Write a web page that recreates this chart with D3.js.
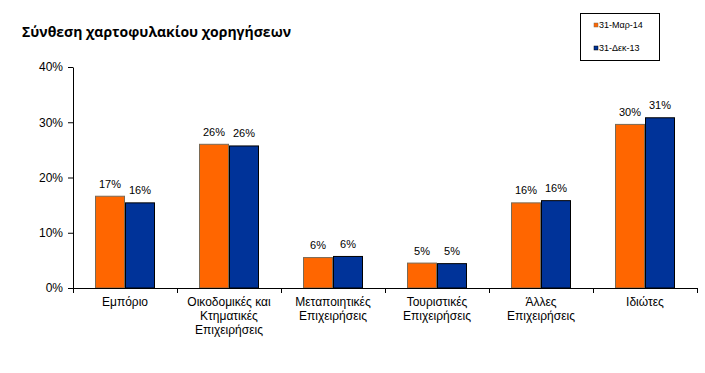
<!DOCTYPE html>
<html>
<head>
<meta charset="utf-8">
<script src="https://cdn.jsdelivr.net/npm/d3@7"></script>
<style>
  body { margin: 0; background: #fff; }
  svg { display: block; font-family: "Liberation Sans", Arial, sans-serif; }
</style>
</head>
<body>
<div id="chart"></div>
<script>
// Data
const categories = [
  ['Εμπόριο'],
  ['Οικοδομικές και', 'Κτηματικές', 'Επιχειρήσεις'],
  ['Μεταποιητικές', 'Επιχειρήσεις'],
  ['Τουριστικές', 'Επιχειρήσεις'],
  ['Άλλες', 'Επιχειρήσεις'],
  ['Ιδιώτες']
];
const seriesNames = ['31-Μαρ-14', '31-Δεκ-13'];
const mar14 = [0.167, 0.261, 0.056, 0.046, 0.155, 0.297];
const dec13 = [0.155, 0.258, 0.058, 0.045, 0.159, 0.309];
const yTicks = [0, 0.1, 0.2, 0.3, 0.4];

const colors = ['#FF6600', '#003399'];
const strokes = ['#7a6a55', '#000000'];

const width = 705, height = 373;
const margin = { left: 73, right: 8, top: 67, bottom: 85 };

const svg = d3.select('#chart')
    .append('svg')
    .attr('width', width)
    .attr('height', height);

// Title
svg.append('text')
    .attr('x', 22)
    .attr('y', 37)
    .attr('font-size', 14)
    .attr('font-weight', 'bold')
    .attr('font-family', '"Open Sans", "Liberation Sans", sans-serif')
    .text('Σύνθεση χαρτοφυλακίου χορηγήσεων');

const x0 = d3.scaleBand()
    .domain(d3.range(categories.length))
    .range([margin.left, 697])
    .padding(0);

const x1 = d3.scaleBand()
    .domain([0, 1])
    .range([22, x0.bandwidth() - 22])
    .padding(0);

const y = d3.scaleLinear()
    .domain([0, 0.4])
    .range([288, 67]);

// Y axis
const yAxis = svg.append('g')
    .attr('transform', `translate(${margin.left},0)`)
    .call(d3.axisLeft(y).tickValues(yTicks).tickFormat(d3.format('.0%')).tickSize(5).tickSizeOuter(0));
yAxis.select('.domain').attr('stroke', '#000');
yAxis.selectAll('text').attr('font-size', 12).attr('fill', '#000').attr('dx', -2).attr('font-family', '"Liberation Sans", Arial, sans-serif');

// Bars
const data = categories.map((c, i) => ({ i, vals: [mar14[i], dec13[i]] }));

const groups = svg.selectAll('.grp')
    .data(data)
    .enter()
    .append('g')
    .attr('class', 'grp')
    .attr('transform', d => `translate(${x0(d.i)},0)`);

groups.selectAll('rect')
    .data(d => d.vals.map((v, s) => ({ v, s })))
    .enter()
    .append('rect')
    .attr('x', d => x1(d.s) + 0.5)
    .attr('y', d => y(d.v) + 0.5)
    .attr('width', x1.bandwidth() - 1)
    .attr('height', d => y(0) - y(d.v) - 0.5)
    .attr('fill', d => colors[d.s])
    .attr('stroke', d => strokes[d.s])
    .attr('stroke-width', 1);

groups.selectAll('.lbl')
    .data(d => d.vals.map((v, s) => ({ v, s })))
    .enter()
    .append('text')
    .attr('class', 'lbl')
    .attr('x', d => x1(d.s) + x1.bandwidth() / 2)
    .attr('y', d => y(d.v) - 8)
    .attr('text-anchor', 'middle')
    .attr('font-size', 11)
    .attr('fill', '#000')
    .text(d => Math.round(d.v * 100) + '%');

// X axis
const xAxis = svg.append('g')
    .attr('transform', `translate(0,${y(0)})`);
xAxis.append('line')
    .attr('x1', margin.left).attr('x2', 697)
    .attr('y1', 0.5).attr('y2', 0.5)
    .attr('stroke', '#000');
xAxis.selectAll('.xt')
    .data(d3.range(categories.length + 1))
    .enter()
    .append('line')
    .attr('x1', d => (d < categories.length ? x0(d) : 697) + 0.5)
    .attr('x2', d => (d < categories.length ? x0(d) : 697) + 0.5)
    .attr('y1', 0).attr('y2', 5)
    .attr('stroke', '#000');

const catLabels = xAxis.selectAll('.cat')
    .data(categories)
    .enter()
    .append('text')
    .attr('class', 'cat')
    .attr('text-anchor', 'middle')
    .attr('font-size', 12)
    .attr('fill', '#000')
    .attr('y', 18);
catLabels.selectAll('tspan')
    .data((d, i) => d.map(t => ({ t, i })))
    .enter()
    .append('tspan')
    .attr('x', d => x0(d.i) + x0.bandwidth() / 2)
    .attr('dy', (d, k) => k === 0 ? 0 : 14)
    .text(d => d.t);

// Legend
const legend = svg.append('g');
legend.append('rect')
    .attr('x', 580.5).attr('y', 13.5)
    .attr('width', 79).attr('height', 47)
    .attr('fill', '#fff')
    .attr('stroke', '#000');
seriesNames.forEach((name, s) => {
    const ly = 28 + s * 23;
    legend.append('rect')
        .attr('x', 594).attr('y', ly - 5)
        .attr('width', 4).attr('height', 4)
        .attr('fill', colors[s])
        .attr('stroke', strokes[s])
        .attr('stroke-width', 0.5);
    legend.append('text')
        .attr('x', 599).attr('y', ly)
        .attr('font-size', 9)
        .attr('fill', '#000')
        .text(name);
});
</script>
</body>
</html>
